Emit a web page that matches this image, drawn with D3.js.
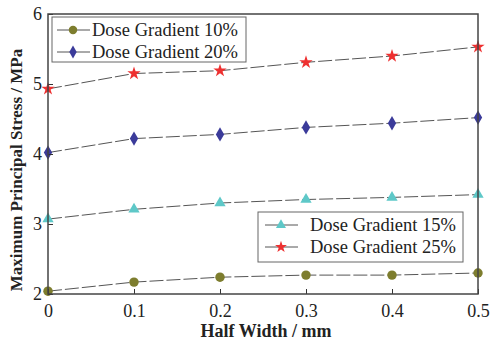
<!DOCTYPE html>
<html>
<head>
<meta charset="utf-8">
<script src="https://cdn.jsdelivr.net/npm/d3@7"></script>
<style>
body { margin: 0; background: #fff; }
text { font-family: "Liberation Serif", "Times New Roman", serif; }
</style>
</head>
<body>
<svg id="chart"></svg>
<script>
var halfWidth = [0, 0.1, 0.2, 0.3, 0.4, 0.5];
var dose10 = [2.04, 2.17, 2.24, 2.27, 2.27, 2.30];
var dose15 = [3.07, 3.21, 3.30, 3.35, 3.38, 3.42];
var dose20 = [4.02, 4.22, 4.28, 4.38, 4.44, 4.52];
var dose25 = [4.93, 5.15, 5.19, 5.31, 5.40, 5.53];
var xTicks = [0, 0.1, 0.2, 0.3, 0.4, 0.5];
var yTicks = [2, 3, 4, 5, 6];

var series = [
	{name: "Dose Gradient 10%", values: dose10, color: "#7d7d2e", sym: d3.symbolCircle, size: 70},
	{name: "Dose Gradient 20%", values: dose20, color: "#3b3b9a", sym: d3.symbolDiamond, size: 60},
	{name: "Dose Gradient 15%", values: dose15, color: "#5ec8c8", sym: d3.symbolTriangle, size: 55},
	{name: "Dose Gradient 25%", values: dose25, color: "#ee3030", sym: d3.symbolStar, size: 55}
];

var W = 490, H = 343,
	margin = {top: 14, right: 12, bottom: 49, left: 48},
	width = W - margin.left - margin.right,
	height = H - margin.top - margin.bottom;

var svg = d3.select("#chart").attr("width", W).attr("height", H);
var g = svg.append("g").attr("transform", "translate(" + margin.left + "," + margin.top + ")");

var xScale = d3.scaleLinear().domain([0, 0.5]).range([0, width]);
var yScale = d3.scaleLinear().domain([2, 6]).range([height, 0]);

var line = d3.line()
	.x(function(d, i) { return xScale(halfWidth[i]); })
	.y(function(d) { return yScale(d); });

series.forEach(function(s) {
	g.append("path")
		.attr("d", line(s.values))
		.attr("fill", "none")
		.attr("stroke", "#555")
		.attr("stroke-width", 1)
		.attr("stroke-dasharray", "14,3");
	g.selectAll(null)
		.data(s.values)
		.enter().append("path")
		.attr("transform", function(d, i) { return "translate(" + xScale(halfWidth[i]) + "," + yScale(d) + ")"; })
		.attr("d", d3.symbol().type(s.sym).size(s.size))
		.attr("fill", s.color);
});

// axes with inward ticks
var xAxis = d3.axisBottom(xScale).tickValues(xTicks).tickSizeInner(-5).tickSizeOuter(0).tickPadding(10)
	.tickFormat(function(d) { return d === 0 ? "0" : d3.format(".1f")(d); });
var yAxis = d3.axisLeft(yScale).tickValues(yTicks).tickSizeInner(-5).tickSizeOuter(0).tickPadding(6)
	.tickFormat(d3.format("d"));

var gx = g.append("g").attr("transform", "translate(0," + height + ")").call(xAxis);
var gy = g.append("g").call(yAxis);
[gx, gy].forEach(function(a) {
	a.select(".domain").remove();
	a.selectAll("line").attr("stroke", "#333");
	a.selectAll("text").attr("font-size", 18).attr("fill", "#222")
		.style("font-family", "Liberation Serif, serif");
});

g.append("rect")
	.attr("width", width).attr("height", height)
	.attr("fill", "none").attr("stroke", "#444").attr("stroke-width", 1.5);

svg.append("text")
	.attr("x", 266).attr("y", H - 6)
	.attr("text-anchor", "middle")
	.attr("font-size", 18).attr("font-weight", "bold").attr("fill", "#222")
	.text("Half Width / mm");

svg.append("text")
	.attr("transform", "translate(22,170) rotate(-90)")
	.attr("text-anchor", "middle")
	.attr("font-size", 17).attr("font-weight", "bold").attr("fill", "#222")
	.text("Maximum Principal Stress / MPa");

// legends
function legend(items, x, y, w, h, lineX, textX) {
	var lg = svg.append("g").attr("transform", "translate(" + x + "," + y + ")");
	lg.append("rect").attr("width", w).attr("height", h)
		.attr("fill", "#fff").attr("stroke", "#666").attr("stroke-width", 1);
	items.forEach(function(s, i) {
		var cy = 13 + i * 22;
		lg.append("line").attr("x1", lineX).attr("x2", lineX + 33)
			.attr("y1", cy).attr("y2", cy).attr("stroke", "#555").attr("stroke-width", 1);
		lg.append("path")
			.attr("transform", "translate(" + (lineX + 16) + "," + cy + ")")
			.attr("d", d3.symbol().type(s.sym).size(s.size * 0.8))
			.attr("fill", s.color);
		lg.append("text").attr("x", textX).attr("y", cy).attr("dy", "0.35em")
			.attr("font-size", 18.5).attr("fill", "#222").text(s.name);
	});
}
legend(series.slice(0, 2), 52, 17, 194, 45, 5, 40);
legend(series.slice(2, 4), 258, 212, 205, 50, 7, 52);
</script>
</body>
</html>
